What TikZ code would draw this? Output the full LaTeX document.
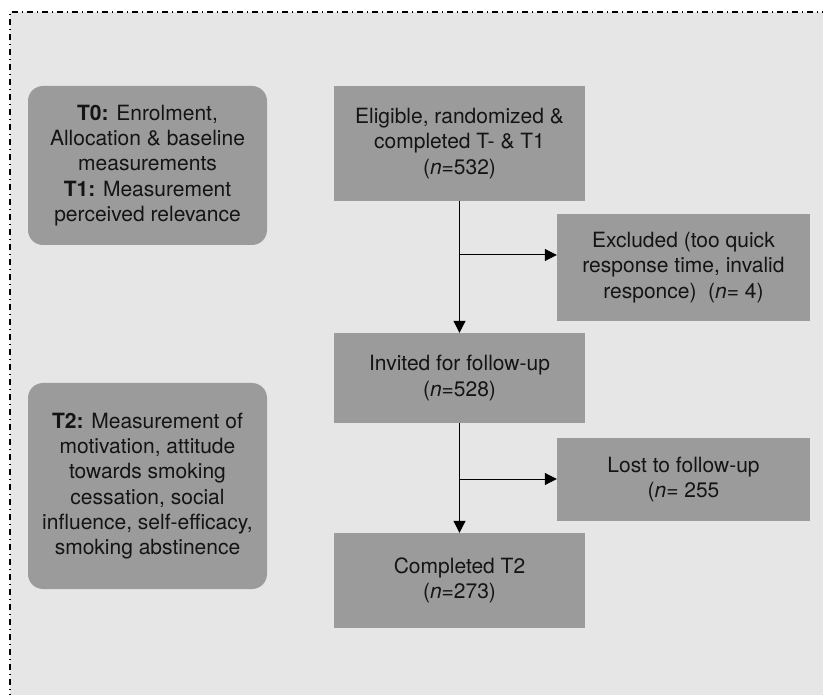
\documentclass[tikz,border=0pt]{standalone}
\usepackage{fontspec}
\setmainfont{TeX Gyre Heros}
\usetikzlibrary{arrows.meta}
\definecolor{bg}{HTML}{E6E6E6}
\definecolor{boxgray}{HTML}{9B9B9B}
\definecolor{txt}{HTML}{141414}
\begin{document}
\begin{tikzpicture}[x=1pt,y=-1pt,
  lbox/.style={fill=boxgray,rounded corners=15pt,minimum width=239pt,inner sep=0pt,align=center,text=txt,
    font=\fontsize{21}{25.3}\selectfont},
  rbox/.style={fill=boxgray,minimum width=251pt,inner sep=0pt,align=center,text=txt,
    font=\fontsize{21}{25.3}\selectfont},
  arr/.style={draw=black,line width=1pt,-{Triangle[length=12pt,width=12pt]}},
  brd/.style={draw=black,line width=1.2pt,dash pattern=on 6pt off 4pt on 1pt off 4pt}]
\clip (0,0) rectangle (823,695);
\fill[bg] (10,12) rectangle (830,700);
\draw[brd] (10,700) -- (10,12) -- (830,12);
% left boxes
\node[lbox,minimum height=159pt] (t01) at (147.5,165.5) {\textbf{T0:} Enrolment,\\Allocation \& baseline\\measurements\\\textbf{T1:} Measurement\\perceived relevance};
\node[lbox,minimum height=206pt] (t2) at (147.5,486) {\textbf{T2:} Measurement of\\motivation, attitude\\towards smoking\\cessation, social\\influence, self-efficacy,\\smoking abstinence};
% right boxes
\node[rbox,minimum height=115pt] (elig) at (459.5,143.5) {Eligible, randomized \&\\completed T- \& T1\\(\textit{n}=532)};
\node[rbox,minimum width=253pt,minimum height=107pt] (excl) at (683.5,267.5) {Excluded (too quick\\response time, invalid\\responce)\ \ (\textit{n}= 4)};
\node[rbox,minimum height=90pt] (inv) at (459.5,378) {Invited for follow-up\\(\textit{n}=528)};
\node[rbox,minimum width=253pt,minimum height=83pt] (lost) at (683.5,479.5) {Lost to follow-up\\(\textit{n}= 255};
\node[rbox,minimum height=95pt] (comp) at (459.5,580.5) {Completed T2\\(\textit{n}=273)};
% connectors
\coordinate (b1) at (459.5,255);
\coordinate (b2) at (459.5,479);
\draw[arr] (elig.south) -- (inv.north);
\draw[arr] (b1) -- (b1 -| excl.west);
\draw[arr] (inv.south) -- (comp.north);
\draw[arr] (b2) -- (b2 -| lost.west);
\end{tikzpicture}
\end{document}
